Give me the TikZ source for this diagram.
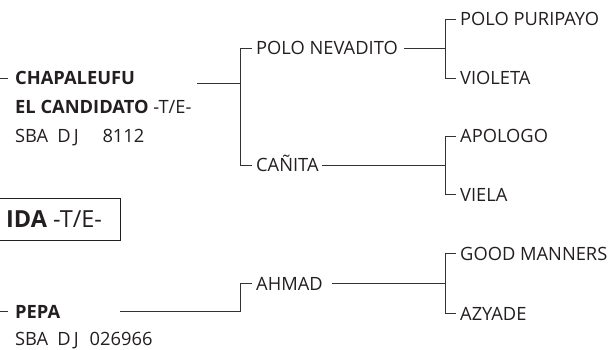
\documentclass[tikz,border=0pt]{standalone}
\usepackage{fontspec}
\setmainfont{Open Sans}
\usepackage{tikz}
\definecolor{ink}{HTML}{231F20}
\definecolor{rule}{HTML}{333333}

\begin{document}
\begin{tikzpicture}[x=1pt, y=-1pt,
    horse/.style={anchor=west, inner xsep=4.5pt, inner ysep=0pt,
      text height=13pt, text depth=0pt, text=ink,
      font=\fontsize{18.3}{22}\selectfont},
    horsebold/.style={horse, font=\fontsize{18.3}{22}\selectfont\bfseries},
    titlebox/.style={draw=ink, line width=0.9pt, anchor=east, inner xsep=18pt,
      minimum height=42pt, text height=16pt, text depth=0pt, text=ink,
      font=\fontsize{23.5}{28}\selectfont},
    link/.style={draw=rule, line width=0.9pt}]
  \useasboundingbox (0,0) rectangle (611,350);
  % sire
  \node [horsebold] (1) at (10.5,78.5) { CHAPALEUFU };
  \node [horsebold] (1a) at (10.5,107.5) { EL CANDIDATO \mdseries -T/E- };
  \node [horse] (1b) at (10.5,136) { SBA\hspace{0.5em}D\,J\hspace{1.3em}8112 };
  \node [horse] (2) at (251.5,48.5) { POLO NEVADITO };
  \node [horse] (3) at (251.5,165.5) { CAÑITA };
  \node [horse] (4) at (455.5,19.5) { POLO PURIPAYO };
  \node [horse] (5) at (455.5,78.5) { VIOLETA };
  \node [horse] (6) at (455.5,136.5) { APOLOGO };
  \node [horse] (7) at (455.5,194.5) { VIELA };
  % the horse itself
  \node [titlebox] (8) at (120.5,219) { \bfseries IDA \mdseries -T/E- };
  % dam
  \node [horsebold] (9) at (10.5,311.5) { PEPA };
  \node [horse] (9a) at (10.5,339) { SBA\hspace{0.5em}D\,J\hspace{0.6em}026966 };
  \node [horse] (10) at (251.5,283.5) { AHMAD };
  \node [horse] (11) at (455.5,253.5) { GOOD MANNERS };
  \node [horse] (12) at (455.5,313.5) { AZYADE };

  \coordinate (d1) at (0,78.5);
  \coordinate (d2) at (0,311.5);
  \coordinate (s1) at (197,83);
  \coordinate (j1) at (240,83);
  \coordinate (j2) at (445,48.5);
  \coordinate (j3) at (445,165.5);
  \coordinate (s2) at (120,311.5);
  \coordinate (j4) at (240,311.5);
  \coordinate (j5) at (445,283.5);

  \draw [link] (d1) -- ++(8,0);
  \draw [link] (d2) -- ++(8,0);
  \draw [link] (s1) -- (j1);
  \draw [link] (2.west) -- (j1 |- 2.west) -- (j1 |- 3.west) -- (3.west);
  \draw [link] ([xshift=2pt]2.east) -- (j2);
  \draw [link] ([xshift=-1.5pt]3.east) -- (j3);
  \draw [link] (4.west) -- (j2 |- 4.west) -- (j2 |- 5.west) -- (5.west);
  \draw [link] (6.west) -- (j3 |- 6.west) -- (j3 |- 7.west) -- (7.west);
  \draw [link] (s2) -- (j4) -- (j4 |- 10.west) -- (10.west);
  \draw [link] ([xshift=5pt]10.east) -- (j5);
  \draw [link] (11.west) -- (j5 |- 11.west) -- (j5 |- 12.west) -- (12.west);
\end{tikzpicture}
\end{document}
